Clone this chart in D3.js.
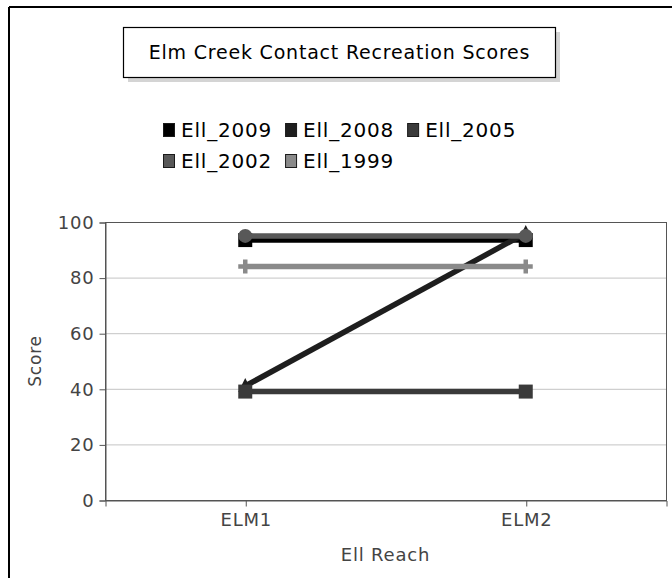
<!DOCTYPE html>
<html><head><meta charset="utf-8">
<script src="https://cdn.jsdelivr.net/npm/d3@7"></script>
<style>body{margin:0;background:#fff}svg{display:block;font-family:"DejaVu Sans",sans-serif}</style>
</head><body><svg id="c" width="672" height="578"></svg>
<script>
const title = "Elm Creek Contact Recreation Scores";
const categories = ["ELM1", "ELM2"];
const seriesNames = ["Ell_2009", "Ell_2008", "Ell_2005", "Ell_2002", "Ell_1999"];
const seriesColors = ["#000000", "#1e1e1e", "#3a3a3a", "#585858", "#8a8a8a"];
const seriesMarkers = ["square", "triangle", "square", "circle", "cross"];
const val2009 = [93.5, 93.5];
const val2008 = [41, 96];
const val2005 = [39, 39];
const val2002 = [95, 95];
const val1999 = [84, 84];
const yTicks = [0, 20, 40, 60, 80, 100];
const xTitle = "Ell Reach", yTitle = "Score";

const values = [val2009, val2008, val2005, val2002, val1999];
const svg = d3.select("#c");
const M = {l:105, r:666, t:222, b:500};
const FS = 18, LS = "0.8px";

// outer border
svg.append("line").attr("x1",9).attr("x2",9).attr("y1",7).attr("y2",578).attr("stroke","#000").attr("stroke-width",2);
svg.append("line").attr("x1",9).attr("x2",672).attr("y1",7).attr("y2",7).attr("stroke","#000").attr("stroke-width",2);

// title box
svg.append("rect").attr("x",128).attr("y",32).attr("width",432).attr("height",50).attr("fill","#d4d4d4");
svg.append("rect").attr("x",123.5).attr("y",27.5).attr("width",432).attr("height",50).attr("fill","#fff").attr("stroke","#000").attr("stroke-width",1.2);
svg.append("text").attr("x",339.5).attr("y",59).attr("text-anchor","middle").attr("font-size",19).attr("letter-spacing",LS).attr("fill","#000").text(title);

// legend (flow layout)
const rows = [[0,1,2],[3,4]], rowY = [130,161];
rows.forEach((r,ri)=>{
  let cx = 163;
  r.forEach(i=>{
    const g = svg.append("g").attr("transform",`translate(${cx},${rowY[ri]})`);
    g.append("rect").attr("x",0.5).attr("y",-6.5).attr("width",11).attr("height",13).attr("fill",seriesColors[i]).attr("stroke","#1a1a1a");
    const t = g.append("text").attr("x",18).attr("y",7).attr("font-size",20).attr("letter-spacing",LS).attr("fill","#000").text(seriesNames[i]);
    cx += 18 + t.node().getComputedTextLength() + 13;
  });
});

const x = d3.scalePoint().domain(categories).range([M.l, M.r]).padding(0.5);
const y = d3.scaleLinear().domain([0,100]).range([M.b, M.t]);

// grid
svg.append("g").selectAll("line").data(yTicks.slice(1,-1)).join("line")
  .attr("x1",M.l).attr("x2",M.r).attr("y1",d=>y(d)+0.5).attr("y2",d=>y(d)+0.5).attr("stroke","#c4c4c4");
// plot border
svg.append("rect").attr("x",M.l+0.5).attr("y",M.t+0.5).attr("width",M.r-M.l).attr("height",M.b-M.t).attr("fill","none").attr("stroke","#555");

// axes
const ya = svg.append("g").attr("transform",`translate(${M.l+0.5},0.5)`)
  .call(d3.axisLeft(y).tickValues(yTicks).tickSize(6).tickPadding(5).tickFormat(d3.format("d")));
ya.select(".domain").attr("stroke","#555");
ya.selectAll(".tick line").attr("stroke","#555");
ya.selectAll("text").attr("font-size",FS).attr("letter-spacing",LS).attr("fill","#444").attr("font-family","DejaVu Sans");
const xa = svg.append("g").attr("transform",`translate(0.5,${M.b+0.5})`)
  .call(d3.axisBottom(x).tickSize(6).tickPadding(7));
xa.select(".domain").attr("stroke","#555");
xa.selectAll(".tick line").attr("stroke","#555");
xa.selectAll("text").attr("font-size",FS).attr("letter-spacing",LS).attr("fill","#444").attr("font-family","DejaVu Sans");

svg.append("text").attr("x",(M.l+M.r)/2).attr("y",561).attr("text-anchor","middle").attr("font-size",FS).attr("letter-spacing",LS).attr("fill","#444").text(xTitle);
svg.append("text").attr("transform",`translate(41,${(M.t+M.b)/2}) rotate(-90)`).attr("text-anchor","middle").attr("font-size",FS-1).attr("letter-spacing",LS).attr("fill","#444").text(yTitle);

// lines
const line = d3.line().x((d,i)=>x(categories[i])).y(d=>y(d));
values.forEach((vals,si)=>{
  svg.append("path").attr("d",line(vals)).attr("fill","none").attr("stroke",seriesColors[si]).attr("stroke-width",5.5);
  vals.forEach((v,i)=>{
    const cx = x(categories[i]), cy = y(v), c = seriesColors[si], m = seriesMarkers[si];
    if (m==="square") svg.append("rect").attr("x",cx-7).attr("y",cy-7).attr("width",14).attr("height",14).attr("fill",c);
    else if (m==="circle") svg.append("circle").attr("cx",cx).attr("cy",cy).attr("r",7).attr("fill",c);
    else if (m==="triangle") svg.append("path").attr("d",`M${cx},${cy-8}L${cx+7},${cy+6}L${cx-7},${cy+6}Z`).attr("fill",c);
    else if (m==="cross") svg.append("path").attr("d",`M${cx-7},${cy}H${cx+7}M${cx},${cy-7}V${cy+7}`).attr("stroke",c).attr("stroke-width",4.5);
  });
});
</script></body></html>
